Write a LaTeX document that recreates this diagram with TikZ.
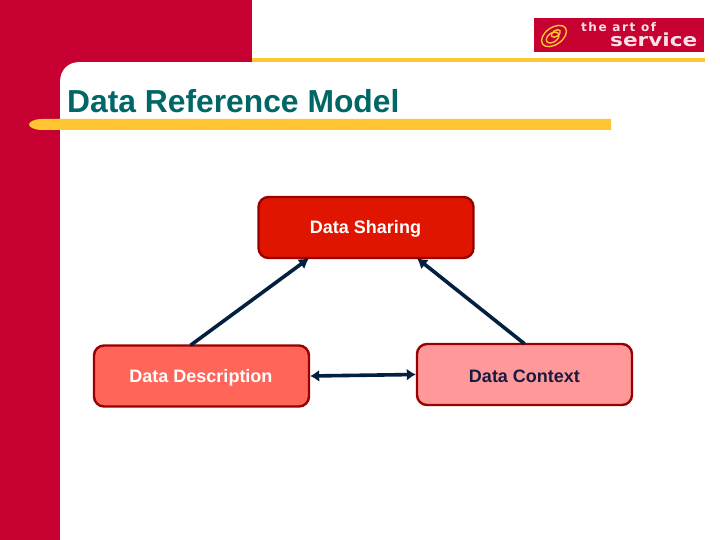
\documentclass[tikz,border=0pt]{standalone}
\usepackage{fontspec}
\setmainfont{Liberation Sans}
\newfontfamily\logofonta[LetterSpace=13]{DejaVu Sans}
\newfontfamily\logofontb[FakeStretch=1.2]{DejaVu Sans}
\usetikzlibrary{arrows.meta}
\definecolor{crim}{HTML}{C60030}
\definecolor{gold}{HTML}{FFC533}
\definecolor{teal2}{HTML}{006666}
\definecolor{edge}{HTML}{990000}
\definecolor{navy}{HTML}{04203F}
\tikzset{
  rbox/.style={draw=edge,line width=2.4pt,rounded corners=10pt,minimum width=215pt,minimum height=61pt,inner sep=0pt,font=\fontsize{18}{20}\selectfont\bfseries},
  boxlabel/.style={inner sep=0pt,font=\fontsize{18}{20}\selectfont\bfseries},
  link/.style={draw=navy,line width=3.6pt,-{Latex[length=10pt,width=12pt]}},
  linkboth/.style={draw=navy,line width=3.6pt,{Latex[length=9pt,width=12pt]}-{Latex[length=9pt,width=12pt]}},
}
\begin{document}
\begin{tikzpicture}[x=1pt,y=-1pt]
\useasboundingbox (0,0) rectangle (720,540);
\fill[white] (0,0) rectangle (720,540);
% red frame
\fill[crim] (0,0) rectangle (252,62);
\fill[crim] (0,62) rectangle (60,540);
\fill[crim] (60,62) rectangle (80,82);
\fill[white] (60,82) .. controls (60,70) and (68,62) .. (80,62) -- (80,82) -- cycle;
% gold rules
\fill[gold] (252,58) rectangle (705,62);
\fill[gold] (611,119) -- (611,130) -- (42,130) .. controls (34,130) and (29,127) .. (29,124.5) .. controls (29,122) and (34,119) .. (42,119) -- cycle;
\node[anchor=west,inner sep=0pt,text=teal2,font=\fontsize{31.8}{34}\selectfont\bfseries] (title) at (67,101) {Data Reference Model};
% logo
\fill[crim] (534,18) rectangle (704,52);
\begin{scope}[shift={(554,36)},rotate=35,draw=gold,line width=1.4pt]
\draw (0,0) ellipse [x radius=14,y radius=8.5];
\draw (-2,0.5) ellipse [x radius=7,y radius=4.5];
\draw (3,-1) ellipse [x radius=5,y radius=3];
\end{scope}
\node[anchor=base west,inner sep=0pt,text=white!88!crim,font=\logofonta\fontsize{12}{13}\selectfont\bfseries] (logoa) at (581,32) {the art of};
\node[anchor=base west,inner sep=0pt,text=white!88!crim,font=\logofontb\fontsize{18}{19}\selectfont\bfseries] (logob) at (610,46.5) {service};
% boxes
\node[rbox,fill={rgb,255:red,224;green,21;blue,0}] (share) at (366,227.5) {};
\node[rbox,fill={rgb,255:red,255;green,102;blue,89}] (desc) at (201.5,376) {};
\node[rbox,fill={rgb,255:red,255;green,153;blue,153}] (ctx) at (524.5,374.5) {};
\node[boxlabel,text=white] (sharetxt) at (365.5,229) {Data Sharing};
\node[boxlabel,text=white] (desctxt) at (201,378) {Data Description};
\node[boxlabel,text={rgb,255:red,26;green,26;blue,64}] (ctxtxt) at (524.5,376) {Data Context};
% connectors
\draw[link] ([xshift=-11pt,yshift=-1pt]desc.north) -- ([xshift=-57pt,yshift=1pt]share.south);
\draw[link] ([yshift=-1pt]ctx.north) -- ([xshift=51pt,yshift=1pt]share.south);
\draw[linkboth] (desc.east) -- (ctx.west);
\end{tikzpicture}
\end{document}
